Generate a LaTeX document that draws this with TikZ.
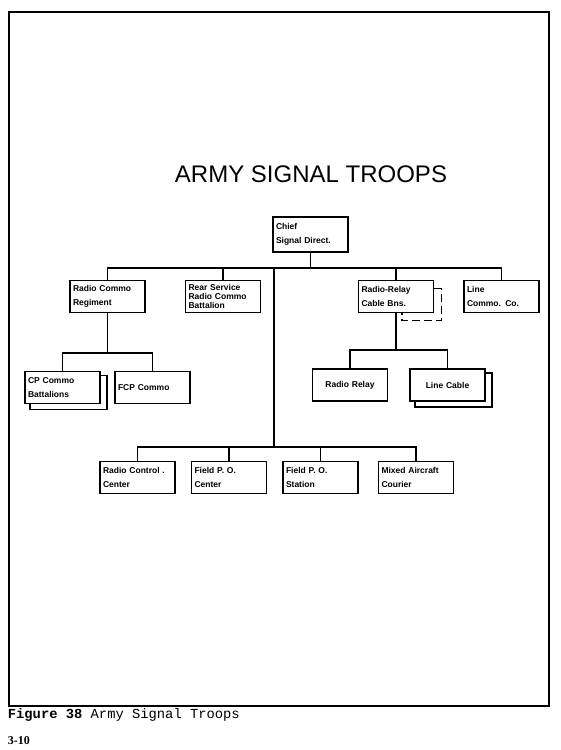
\documentclass[tikz,border=0pt]{standalone}
\usepackage{fontspec}
\setmainfont{Liberation Sans}
\newfontfamily\capfont{Liberation Mono}
\newfontfamily\pagefont{Liberation Serif}
\usetikzlibrary{positioning, backgrounds}
\tikzset{
  every picture/.style={line width=1.8pt},
  unit/.style={draw, fill=white, minimum width=75pt, minimum height=32pt, inner xsep=3pt, inner ysep=2pt,
    text width=69pt, align=left, font=\fontsize{8.5}{14}\selectfont\bfseries},
  unitc/.style={unit, align=center},
  tight/.style={font=\fontsize{8.5}{9.3}\selectfont\bfseries},
  shadow/.style={draw, line width=1.6pt},
  link/.style={line width=1.8pt},
}

\begin{document}
\begin{tikzpicture}[x=1pt, y=-1pt]
  \useasboundingbox (0,0) rectangle (560,750);
  % page frame and title
  \draw (9,12) rectangle (549,706);
  \node[font=\fontsize{24}{28}\selectfont, anchor=base] (title) at (311,182) {ARMY SIGNAL TROOPS};
  % head
  \node[unit, minimum height=35pt] (chief) at (310.5,234.5) {Chief\\Signal Direct.};
  % first row
  \node[unit] (rcr) at (107.5,296.5) {Radio Commo\\Regiment};
  \node[unit, tight] (rsr) at (223,296.5) {Rear Service\\Radio Commo\\Battalion};
  \node[unit] (rrc) at (396,296.5) {Radio-Relay\\Cable Bns.};
  \node[unit] (lcc) at (501.5,296.5) {Line\\Commo. Co.};
  \draw[shadow, dashed, dash pattern=on 8pt off 4pt] ([shift={(0,9)}]rrc.north east) -- ++(7,0)
    |- ([shift={(6,7)}]rrc.south) -- ++(0,-7);
  % second row
  \node[unit] (cpc) at (62.5,387.5) {CP Commo\\Battalions};
  \node[unit] (fcp) at (152.5,387.5) {FCP Commo};
  \node[unitc] (rrl) at (350,385) {Radio Relay};
  \node[unitc] (lcb) at (447.5,385) {Line Cable};
  \begin{scope}[on background layer]
    \foreach \n in {cpc, lcb}
      \draw[shadow] ([shift={(6,5)}]\n.north west) rectangle ([shift={(6,5)}]\n.south east);
  \end{scope}
  % third row
  \foreach \x/\t/\n in {137.5/{Radio Control .\\Center}/rcc, 229/{Field P. O.\\Center}/fpc,
                        320.5/{Field P. O.\\Station}/fps, 416/{Mixed Aircraft\\Courier}/mac}
    \node[unit] (\n) at (\x,477.5) {\t};
  % connectors
  \coordinate (bus1) at (274,268);
  \coordinate (bus2) at (107.5,353);
  \coordinate (bus3) at (274,447);
  \coordinate (bus4) at (396,350);
  \draw[link] (chief.south) -- (chief.south |- bus1);
  \draw[link] (rcr.north) |- (bus1) -| (lcc.north);
  \foreach \n in {rsr, rrc}
    \draw[link] (\n.north) -- (\n.north |- bus1);
  \draw[link] (bus1) -- (bus3);
  \draw[link] (rcr.south) -- (bus2);
  \draw[link] (cpc.north) |- (bus2) -| (fcp.north);
  \draw[link] (rrc.south) -- (bus4);
  \draw[link] (rrl.north) |- (bus4) -| (lcb.north);
  \draw[link] (rcc.north) |- (bus3) -| (mac.north);
  \foreach \n in {fpc, fps}
    \draw[link] (\n.north) -- (\n.north |- bus3);
  % caption
  \node[anchor=base west, inner sep=0pt, font=\capfont\fontsize{13.8}{16}\selectfont] (caption) at (7,718)
    {\textbf{Figure 38} Army Signal Troops};
  \node[anchor=base west, inner sep=0pt, font=\pagefont\fontsize{12}{14}\selectfont\bfseries] (page) at (7,744) {3-10};
\end{tikzpicture}
\end{document}
